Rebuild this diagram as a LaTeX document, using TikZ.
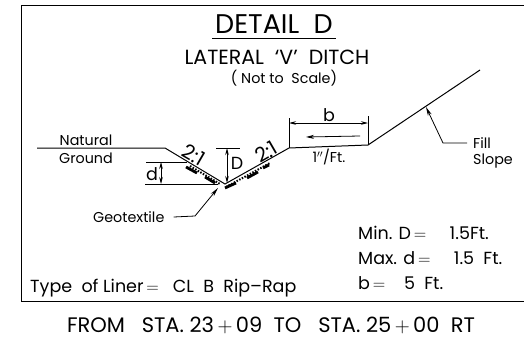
\documentclass[tikz,border=0pt]{standalone}
\usepackage{fontspec}
\setmainfont{Poppins}
\usetikzlibrary{arrows.meta}
\tikzset{
    lbl/.style={inner sep=0pt, font=\fontsize{17.5}{20}\selectfont},
    smalllbl/.style={inner sep=0pt, font=\fontsize{14.3}{16}\selectfont},
    slopelbl/.style={inner sep=0pt, font=\fontsize{20}{22}\selectfont},
    dimline/.style={thick, {Stealth[length=7pt,width=3.5pt]}-{Stealth[length=7pt,width=3.5pt]}},
    leader/.style={thick, -{Stealth[length=9pt,width=4pt]}},
    liner/.style={line width=2.8pt, line cap=butt},
    linerdots/.style={line width=2pt, dash pattern=on 1.5pt off 1.5pt},
}
\begin{document}
\begin{tikzpicture}[x=1pt, y=-1pt]
    \useasboundingbox (0, 0) rectangle (524, 340);
    \draw [thick] (524, 5) -- (21, 5) -- (21, 301) -- (524, 301);

    \coordinate (ng) at (37, 148);
    \coordinate (shoulder) at (165, 148);
    \coordinate (vee) at (225, 184);
    \coordinate (flowleft) at (289, 148);
    \coordinate (flowright) at (368, 145);
    \coordinate (filltop) at (480, 70);
    \draw [line width=1pt] (ng) -- (shoulder) -- (vee) -- (flowleft) -- (flowright) -- (filltop);

    \node [font=\fontsize{27}{29}\selectfont, inner sep=0pt] (title) at (274, 24) {DETAIL\ \ D};
    \draw [line width=1.2pt] (212, 38.5) -- (336, 38.5);
    \node [font=\fontsize{20.5}{22}\selectfont, inner sep=0pt] (subtitle) at (277, 57) {LATERAL\ \ `V'\ \ DITCH};
    \node [smalllbl] (noscale) at (284, 78) {( Not to\ \ Scale)};

    \node [smalllbl] (natural) at (86, 140) {Natural};
    \node [smalllbl] (ground) at (86, 158) {Ground};
    \node [lbl] (dlabel) at (152, 174) {d};
    \node [lbl] (Dlabel) at (237, 163) {D};
    \node [slopelbl, rotate=-30] (leftslope) at (194, 155) {2:1};
    \node [slopelbl, rotate=30] (rightslope) at (266, 152) {2:1};
    \node [lbl] (blabel) at (329, 115) {b};
    \node [smalllbl] (grade) at (329, 157) {1$''$/Ft.};
    \node [smalllbl, anchor=west] (filltxt) at (473, 143) {Fill};
    \node [smalllbl, anchor=west] (slopetxt) at (473, 161) {Slope};
    \node [smalllbl, anchor=west] (geotxt) at (93, 217) {Geotextile};

    \node [lbl, anchor=west] (mind) at (358, 233) {Min. D$\,=$\ \ \ \ \ 1.5Ft.};
    \node [lbl, anchor=west] (maxd) at (358, 258) {Max. d$\,=$\ \ \ \ \ 1.5\ \ Ft.};
    \node [lbl, anchor=west] (bval) at (358, 283) {b$\,=$\ \ \ \ 5\ \ Ft.};
    \node [lbl, anchor=west] (liner) at (30, 288) {Type\ \ of Liner$\,=$\ \ \ CL\ \ B\ \ Rip--Rap};
    \node [font=\fontsize{21}{23}\selectfont, inner sep=0pt] (station) at (271, 325) {FROM\ \ \ STA. 23$\,+\,$09\ \ TO\ \ \ STA. 25$\,+\,$00\ \ RT};

    % d and D
    \coordinate (dtop) at (161, 162);
    \coordinate (dbot) at (161, 184);
    \draw [semithick] (146, 162) -- (187, 162);
    \draw [semithick] (145, 184.5) -- (218, 184.5);
    \draw [dimline, semithick] (dtop) -- (dbot);
    \coordinate (Dtop) at (227, 148);
    \coordinate (Dbot) at (227, 183);
    \draw [semithick] (216, 148) -- (240, 148);
    \draw [dimline] (Dtop) -- (Dbot);

    % b
    \coordinate (bl) at (289, 123);
    \coordinate (br) at (368, 123);
    \draw [semithick] (flowleft) -- (289, 118);
    \draw [semithick] (flowright) -- (368, 116);
    \draw [dimline] (bl) -- (br);
    \coordinate (flowa) at (360, 136);
    \coordinate (flowb) at (306, 137);
    \draw [thick, -{Stealth[length=8pt,width=4pt]}] (flowa) -- (flowb);

    % leaders
    \coordinate (fillhead) at (426, 107);
    \draw [leader] (filltxt.west) ++(-6, 0) -- (443, 143) -- (fillhead);
    \coordinate (geohead) at (218, 188);
    \draw [leader] (geotxt.east) ++(9, 0) -- (195, 216) -- (geohead);

    % liner
    \draw [linerdots] (190, 166) -- (220, 184);
    \draw [linerdots] (226, 187) -- (270, 163);
    \draw [liner] (186, 167) -- (197, 173);
    \draw [liner] (205, 177) -- (215, 183);
    \draw [liner] (225, 188) -- (236, 183);
    \draw [liner] (247, 178) -- (258, 172);
    \draw [liner] (263, 168) -- (269, 165);
\end{tikzpicture}
\end{document}
